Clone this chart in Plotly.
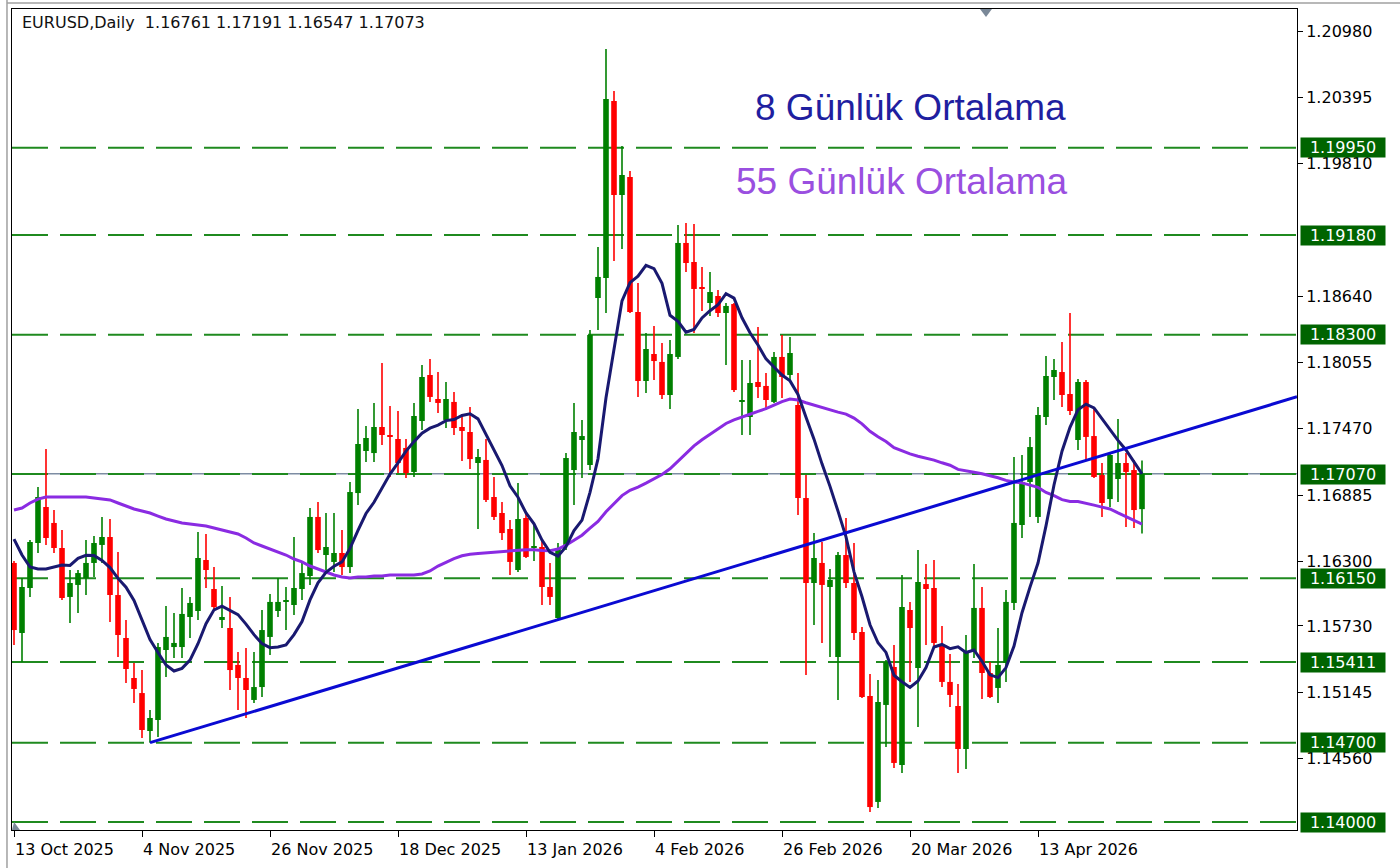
import plotly.graph_objects as go

# ---------------- data ----------------
opens = [
1.16286, 1.15668, 1.16065, 1.16462, 1.16780, 1.16639, 1.16418, 1.15986, 1.16092, 1.16153,
1.16286, 1.16445, 1.16515, 1.16003, 1.15624, 1.15271, 1.15138, 1.14803, 1.14900, 1.15518,
1.15544, 1.15544, 1.15809, 1.15862, 1.16312, 1.16056, 1.15783, 1.15712, 1.15386, 1.15271,
1.15077, 1.15191, 1.15633, 1.15862, 1.15942, 1.15915, 1.16056, 1.16171, 1.16692, 1.16356,
1.16295, 1.16374, 1.16250, 1.16903, 1.17274, 1.17256, 1.17486, 1.17406, 1.17380, 1.17301,
1.17089, 1.17539, 1.17945, 1.17733, 1.17548, 1.17707, 1.17486, 1.17442, 1.17168, 1.17195,
1.16868, 1.16727, 1.16586, 1.16224, 1.16683, 1.16418, 1.16427, 1.16074, 1.15800, 1.16445,
1.17106, 1.17371, 1.17151, 1.18624, 1.18801, 1.20363, 1.19533, 1.19692, 1.18501, 1.17892,
1.18130, 1.18060, 1.17768, 1.18104, 1.19110, 1.18942, 1.18721, 1.18580, 1.18642, 1.18492,
1.18571, 1.17715, 1.17574, 1.17883, 1.17848, 1.17707, 1.18104, 1.17945, 1.17680, 1.16859,
1.16109, 1.16286, 1.16074, 1.15456, 1.16356, 1.16109, 1.15677, 1.15112, 1.14177, 1.15033,
1.15368, 1.14503, 1.15871, 1.15359, 1.16100, 1.16065, 1.15553, 1.15236, 1.15024, 1.14644,
1.15500, 1.15889, 1.15315, 1.15183, 1.15403, 1.15933, 1.16621, 1.17001, 1.16692, 1.17574,
1.17927, 1.17971, 1.17777, 1.17371, 1.17883, 1.17406, 1.17062, 1.16850, 1.17027, 1.17168,
1.17106, 1.16761]

highs = [
1.16303, 1.16153, 1.16489, 1.16956, 1.17292, 1.16753, 1.16577, 1.16224, 1.16224, 1.16489,
1.16524, 1.16692, 1.16674, 1.16383, 1.15783, 1.15403, 1.15341, 1.14988, 1.15580, 1.15906,
1.15844, 1.16065, 1.15986, 1.16559, 1.16542, 1.16250, 1.16083, 1.15986, 1.15500, 1.15536,
1.15500, 1.15871, 1.16012, 1.16153, 1.16074, 1.16515, 1.16286, 1.16771, 1.16824, 1.16727,
1.16727, 1.16577, 1.17001, 1.17645, 1.17495, 1.17698, 1.18051, 1.17671, 1.17627, 1.17380,
1.17698, 1.18033, 1.18086, 1.17971, 1.17883, 1.17795, 1.17601, 1.17662, 1.17292, 1.17380,
1.17045, 1.16824, 1.16665, 1.16992, 1.16727, 1.16621, 1.16489, 1.16286, 1.16462, 1.17256,
1.17698, 1.17548, 1.18342, 1.19074, 1.20822, 1.20451, 1.19966, 1.19745, 1.18757, 1.18315,
1.18377, 1.18227, 1.18254, 1.19269, 1.19286, 1.19277, 1.18898, 1.18854, 1.18695, 1.18580,
1.18580, 1.18077, 1.18077, 1.18368, 1.17962, 1.18148, 1.18298, 1.18280, 1.17962, 1.17062,
1.16550, 1.16471, 1.16233, 1.16383, 1.16683, 1.16462, 1.15721, 1.15306, 1.15253, 1.15430,
1.15562, 1.16180, 1.15942, 1.16400, 1.16277, 1.16312, 1.15730, 1.15483, 1.15218, 1.15650,
1.16277, 1.16074, 1.15412, 1.15712, 1.16047, 1.17221, 1.17239, 1.17398, 1.17662, 1.18112,
1.18086, 1.18236, 1.18492, 1.17909, 1.17901, 1.17662, 1.17168, 1.17256, 1.17556, 1.17256,
1.17195, 1.17191]

lows = [
1.15562, 1.15412, 1.15986, 1.16374, 1.16445, 1.16374, 1.15959, 1.15756, 1.15844, 1.16003,
1.16162, 1.16286, 1.15765, 1.15456, 1.15227, 1.15050, 1.14741, 1.14700, 1.14750, 1.15280,
1.15447, 1.15447, 1.15624, 1.15783, 1.16065, 1.15871, 1.15712, 1.15165, 1.14988, 1.14918,
1.15050, 1.15103, 1.15474, 1.15809, 1.15694, 1.15827, 1.15959, 1.16092, 1.16374, 1.16224,
1.16206, 1.16180, 1.16197, 1.16798, 1.17177, 1.17177, 1.17327, 1.17045, 1.17080, 1.17036,
1.17045, 1.17459, 1.17707, 1.17609, 1.17477, 1.17415, 1.17186, 1.17115, 1.16586, 1.16824,
1.16665, 1.16489, 1.16180, 1.16206, 1.16330, 1.16303, 1.15915, 1.15915, 1.15783, 1.16400,
1.16798, 1.17036, 1.17106, 1.18342, 1.18492, 1.18951, 1.19057, 1.18492, 1.17751, 1.17786,
1.17901, 1.17733, 1.17645, 1.18086, 1.18854, 1.18315, 1.18510, 1.18465, 1.18457, 1.18033,
1.17795, 1.17415, 1.17415, 1.17742, 1.17636, 1.17698, 1.17742, 1.17901, 1.16709, 1.15297,
1.15739, 1.15580, 1.15456, 1.15077, 1.16065, 1.15606, 1.15094, 1.14088, 1.14124, 1.14662,
1.14477, 1.14432, 1.15236, 1.14838, 1.15562, 1.15544, 1.15191, 1.15015, 1.14432, 1.14468,
1.15447, 1.15085, 1.15094, 1.15050, 1.15236, 1.15871, 1.16506, 1.16692, 1.16639, 1.17504,
1.17724, 1.17662, 1.17592, 1.17283, 1.17195, 1.17036, 1.16692, 1.16780, 1.16824, 1.16603,
1.16595, 1.16547]

closes = [
1.15694, 1.16074, 1.16471, 1.16868, 1.16506, 1.16418, 1.15977, 1.16109, 1.16197, 1.16286,
1.16462, 1.16515, 1.16003, 1.15650, 1.15350, 1.15174, 1.14812, 1.14918, 1.15544, 1.15633,
1.15580, 1.15836, 1.15933, 1.16330, 1.16224, 1.15897, 1.15809, 1.15341, 1.15271, 1.15165,
1.15191, 1.15694, 1.15942, 1.15942, 1.15959, 1.16065, 1.16197, 1.16692, 1.16400, 1.16427,
1.16374, 1.16250, 1.16912, 1.17336, 1.17389, 1.17486, 1.17415, 1.17398, 1.17168, 1.17080,
1.17583, 1.17927, 1.17751, 1.17698, 1.17733, 1.17477, 1.17451, 1.17203, 1.17221, 1.16842,
1.16692, 1.16550, 1.16295, 1.16674, 1.16339, 1.16436, 1.16074, 1.15986, 1.16418, 1.17212,
1.17442, 1.17406, 1.18298, 1.18810, 1.20380, 1.19533, 1.19710, 1.18501, 1.17892, 1.18174,
1.18068, 1.17768, 1.18130, 1.19110, 1.18933, 1.18704, 1.18704, 1.18677, 1.18492, 1.18554,
1.17812, 1.17724, 1.17874, 1.17839, 1.17724, 1.18104, 1.17927, 1.18139, 1.16859, 1.16109,
1.16330, 1.16092, 1.16136, 1.16356, 1.16109, 1.15668, 1.15103, 1.14132, 1.15059, 1.15412,
1.14521, 1.15897, 1.15712, 1.16118, 1.16056, 1.15580, 1.15236, 1.15121, 1.14644, 1.15500,
1.15889, 1.15315, 1.15103, 1.15386, 1.15942, 1.16639, 1.17001, 1.17309, 1.17592, 1.17936,
1.17989, 1.17768, 1.17627, 1.17883, 1.17398, 1.17045, 1.16815, 1.17239, 1.17168, 1.17089,
1.16753, 1.17073]

# moving-average values visible before enough history exists on the chart
ma8_start = [1.16497, 1.16356, 1.16250, 1.16233, 1.16233, 1.16250, 1.16268]
ma55_start = [
1.16753, 1.16771, 1.16815, 1.16850, 1.16868, 1.16868, 1.16868, 1.16868, 1.16868, 1.16868,
1.16859, 1.16850, 1.16842, 1.16815, 1.16789, 1.16762, 1.16745, 1.16727, 1.16700, 1.16674,
1.16656, 1.16639, 1.16630, 1.16621, 1.16612, 1.16595, 1.16577, 1.16559, 1.16542, 1.16506,
1.16462, 1.16436, 1.16409, 1.16383, 1.16356, 1.16321, 1.16295, 1.16259, 1.16233, 1.16206,
1.16180, 1.16162, 1.16153, 1.16162, 1.16162, 1.16171, 1.16171, 1.16180, 1.16180, 1.16180,
1.16180, 1.16189, 1.16215, 1.16259]

date_tick_bars = [0, 16, 32, 48, 64, 80, 96, 112, 128]
date_tick_labels = ["13 Oct 2025", "4 Nov 2025", "26 Nov 2025", "18 Dec 2025", "13 Jan 2026",
                    "4 Feb 2026", "26 Feb 2026", "20 Mar 2026", "13 Apr 2026"]
price_ticks = [1.20980, 1.20395, 1.19810, 1.18640, 1.18055, 1.17470, 1.16885,
               1.16300, 1.15730, 1.15145, 1.14560]
levels = [1.19950, 1.19180, 1.18300, 1.17070, 1.16150, 1.15411, 1.14700, 1.14000]
bid_price = 1.17073
trend_bars = [17, 141]
trend_prices = [1.14700, 1.17340]
symbol_title = "EURUSD,Daily"

# ---------------- derived ----------------
n = len(closes)
idx = list(range(n))
ma8 = ma8_start + [sum(closes[i - 7:i + 1]) / 8 for i in range(7, n)]
ma55 = ma55_start + [sum(closes[i - 54:i + 1]) / 55 for i in range(54, n)]

X0, X1 = -0.25, 160.375
Y0, Y1 = 1.139294, 1.211747

GREEN = "#008000"
RED = "#ff0000"
min_body = 0.00009

fig = go.Figure()

# horizontal levels + bid line
fig.add_shape(type="line", xref="paper", x0=0, x1=1, y0=bid_price, y1=bid_price,
              line=dict(color="#7d8da3", width=1.5), layer="below")
for lv in levels:
    fig.add_shape(type="line", xref="paper", x0=0, x1=1, y0=lv, y1=lv,
                  line=dict(color="#1f8a1f", width=2, dash="36px,12px"), layer="below")

# wicks
for col, cond in ((GREEN, True), (RED, False)):
    wx, wy = [], []
    for i in idx:
        if (closes[i] >= opens[i]) == cond:
            wx += [i, i, None]
            wy += [lows[i], highs[i], None]
    fig.add_trace(go.Scatter(x=wx, y=wy, mode="lines", line=dict(color=col, width=1.6),
                             hoverinfo="skip", showlegend=False))

# bodies
for col, cond in ((GREEN, True), (RED, False)):
    bx, bb, bh = [], [], []
    for i in idx:
        if (closes[i] >= opens[i]) == cond:
            lo = min(opens[i], closes[i])
            h = max(abs(closes[i] - opens[i]), min_body)
            bx.append(i)
            bb.append(lo)
            bh.append(h)
    fig.add_trace(go.Bar(x=bx, y=bh, base=bb, width=0.7,
                         marker=dict(color=col, line=dict(width=0)),
                         hoverinfo="skip", showlegend=False))

# moving averages
fig.add_trace(go.Scatter(x=idx, y=ma55, mode="lines", line=dict(color="#8a2be2", width=3),
                         hoverinfo="skip", showlegend=False))
fig.add_trace(go.Scatter(x=idx, y=ma8, mode="lines", line=dict(color="#191970", width=3),
                         hoverinfo="skip", showlegend=False))

# trend line (ray to the right edge)
slope = (trend_prices[1] - trend_prices[0]) / (trend_bars[1] - trend_bars[0])
tx = [trend_bars[0], X1]
ty = [trend_prices[0], trend_prices[0] + slope * (X1 - trend_bars[0])]
fig.add_trace(go.Scatter(x=tx, y=ty, mode="lines", line=dict(color="#0a0ad2", width=3),
                         hoverinfo="skip", showlegend=False, cliponaxis=True))

# level labels on the price scale
for lv in levels:
    fig.add_annotation(xref="paper", x=1, y=lv, yref="y", xanchor="left", yanchor="middle",
                       xshift=3, text=f"{lv:.5f}", showarrow=False, width=82, height=17,
                       align="center", valign="middle",
                       font=dict(family="DejaVu Sans", size=16, color="white"),
                       bgcolor="#006400", borderpad=1)

# header
hdr = f"{symbol_title}&nbsp;&nbsp;{opens[-1]:.5f} {highs[-1]:.5f} {lows[-1]:.5f} {closes[-1]:.5f}"
fig.add_annotation(xref="paper", yref="paper", x=0.0062, y=0.984, xanchor="left", yanchor="middle",
                   text=hdr, showarrow=False,
                   font=dict(family="DejaVu Sans", size=16, color="#111111"))

# legend-like labels
fig.add_annotation(xref="paper", yref="paper", x=0.6996, y=0.8806, xanchor="center", yanchor="middle",
                   text="8 Günlük Ortalama", showarrow=False,
                   font=dict(family="Liberation Sans", size=37, color="#1f1fa0"))
fig.add_annotation(xref="paper", yref="paper", x=0.6926, y=0.7893, xanchor="center", yanchor="middle",
                   text="55 Günlük Ortalama", showarrow=False,
                   font=dict(family="Liberation Sans", size=37, color="#9a4fe0"))

# small chart-shift markers
fig.add_shape(type="path", xref="paper", yref="paper",
              path="M 0.7533,1 L 0.7626,1 L 0.7580,0.9903 Z",
              fillcolor="#7a8898", line=dict(width=0))
fig.add_shape(type="path", xref="paper", yref="paper",
              path="M 0.0,0.0 L 0.0062,0.0 L 0.0016,0.0097 Z",
              fillcolor="#7a8898", line=dict(width=0))

# window borders
fig.add_shape(type="line", xref="paper", yref="paper", x0=-0.0039, x1=-0.0039, y0=-0.06, y1=1.012,
              line=dict(color="#a0a0a0", width=1.5))
fig.add_shape(type="line", xref="paper", yref="paper", x0=-0.0039, x1=1.0833, y0=1.0073, y1=1.0073,
              line=dict(color="#a0a0a0", width=1.5))

fig.update_layout(
    width=1400, height=868,
    margin=dict(l=12, r=103, t=9, b=38),
    paper_bgcolor="white", plot_bgcolor="white",
    barmode="overlay", showlegend=False,
    xaxis=dict(range=[X0, X1], showgrid=False, zeroline=False,
               showline=True, linecolor="black", linewidth=1, mirror=True,
               tickmode="array", tickvals=date_tick_bars, ticktext=date_tick_labels,
               ticks="outside", ticklen=6, tickcolor="black", ticklabelposition="outside right",
               ticklabelstandoff=5,
               tickfont=dict(family="DejaVu Sans", size=16, color="black")),
    yaxis=dict(range=[Y0, Y1], side="right", showgrid=False, zeroline=False,
               showline=True, linecolor="black", linewidth=1, mirror=True,
               tickmode="array", tickvals=price_ticks, ticktext=[f"{v:.5f}" for v in price_ticks],
               ticks="outside", ticklen=5, tickcolor="black",
               tickfont=dict(family="DejaVu Sans", size=16, color="black")),
)

fig.write_html("out.html")
